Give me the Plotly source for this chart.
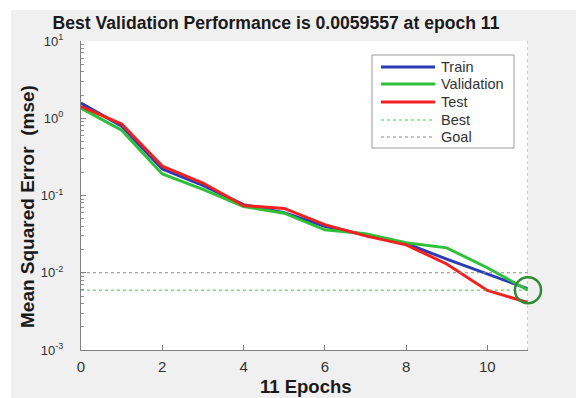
import plotly.graph_objects as go

epochs = [0, 1, 2, 3, 4, 5, 6, 7, 8, 9, 10, 11]
train = [1.57, 0.79, 0.22, 0.135, 0.076, 0.060, 0.040, 0.031, 0.024, 0.015, 0.0097, 0.0062]
validation = [1.35, 0.70, 0.19, 0.12, 0.072, 0.059, 0.036, 0.032, 0.0245, 0.021, 0.0116, 0.0059557]
test = [1.43, 0.84, 0.24, 0.145, 0.074, 0.068, 0.042, 0.030, 0.023, 0.013, 0.0059, 0.0041]
best_epoch = 11
best_perf = 0.0059557
goal = 0.01
y_range = [1e-3, 1e1]
x_range = [0, 11]
y_tickvals = [1e-3, 1e-2, 1e-1, 1e0, 1e1]
y_ticktext = ["10<sup>-3</sup>", "10<sup>-2</sup>", "10<sup>-1</sup>", "10<sup>0</sup>", "10<sup>1</sup>"]
x_tickvals = [0, 2, 4, 6, 8, 10]
minor_vals = [m * 10 ** e for e in range(-3, 1) for m in range(2, 10)]
legend_names = ["Train", "Validation", "Test", "Best", "Goal"]

FONT = "Liberation Sans, Arial, sans-serif"
C_TRAIN, C_VAL, C_TEST = "#2b3bb5", "#2fc03a", "#f2201f"
C_BEST, C_GOAL = "#44cc44", "#8a8a8a"
legend_styles = [(C_TRAIN, 3, "solid"), (C_VAL, 3, "solid"), (C_TEST, 3, "solid"),
                 (C_BEST, 1, "dot"), (C_GOAL, 1, "dot")]

# plot area in pixels
L, R, T, B = 81, 528, 41, 350
W, H = 576, 398


def px(x):
    return (x - L) / (R - L)


def py(y):
    return (B - y) / (B - T)


fig = go.Figure()
fig.add_trace(go.Scatter(x=epochs, y=train, mode="lines", name="Train",
                         line=dict(color=C_TRAIN, width=3)))
fig.add_trace(go.Scatter(x=epochs, y=validation, mode="lines", name="Validation",
                         line=dict(color=C_VAL, width=3)))
fig.add_trace(go.Scatter(x=epochs, y=test, mode="lines", name="Test",
                         line=dict(color=C_TEST, width=3)))
fig.add_trace(go.Scatter(x=[x_range[0], best_epoch], y=[best_perf, best_perf], mode="lines", name="Best",
                         line=dict(color=C_BEST, width=1, dash="dot")))
fig.add_trace(go.Scatter(x=[best_epoch, best_epoch], y=y_range, mode="lines", name="Best",
                         line=dict(color=C_BEST, width=1, dash="dot")))
fig.add_trace(go.Scatter(x=[x_range[0], x_range[1]], y=[goal, goal], mode="lines", name="Goal",
                         line=dict(color=C_GOAL, width=1, dash="dot")))
fig.add_trace(go.Scatter(x=[best_epoch], y=[best_perf], mode="markers", name="Best point",
                         marker=dict(symbol="circle-open", size=26, color="#2e8b34",
                                     line=dict(width=2.5, color="#2e8b34")),
                         cliponaxis=False))

shapes = [
    # white strips at top and left of the grey figure background
    dict(type="rect", xref="paper", yref="paper", layer="above",
         x0=px(-20), x1=px(W + 20), y0=py(10), y1=py(-20),
         fillcolor="#ffffff", line=dict(width=0)),
    dict(type="rect", xref="paper", yref="paper", layer="above",
         x0=px(-20), x1=px(11), y0=py(H + 20), y1=py(-20),
         fillcolor="#ffffff", line=dict(width=0)),
    # legend box
    dict(type="rect", xref="paper", yref="paper", layer="above",
         x0=px(372), x1=px(514), y0=py(148), y1=py(55),
         fillcolor="#ffffff", line=dict(width=1, color="#9a9a9a")),
]
annotations = [
    dict(text="<b>11 Epochs</b>", xref="paper", yref="paper", x=px(306), y=py(386),
         xanchor="center", yanchor="middle", showarrow=False,
         font=dict(size=18.5, color="#1a1a1a", family=FONT)),
    dict(text="<b>Mean Squared Error  (mse)</b>", xref="paper", yref="paper", x=px(27), y=py(207),
         xanchor="center", yanchor="middle", showarrow=False, textangle=-90,
         font=dict(size=19, color="#1a1a1a", family=FONT)),
]
row_y = [67, 84, 102, 120, 137]
for name, (col, wd, dash), ry in zip(legend_names, legend_styles, row_y):
    shapes.append(dict(type="line", xref="paper", yref="paper", layer="above",
                       x0=px(381), x1=px(435), y0=py(ry), y1=py(ry),
                       line=dict(color=col, width=wd, dash=dash)))
    annotations.append(dict(text=name, xref="paper", yref="paper", x=px(439), y=py(ry),
                            xanchor="left", yanchor="middle", showarrow=False,
                            font=dict(size=14.5, color="#333333", family=FONT)))

fig.update_layout(
    width=W, height=H,
    margin=dict(l=L, r=W - R, t=T, b=H - B, autoexpand=False),
    paper_bgcolor="#f0f0f0",
    plot_bgcolor="#ffffff",
    font=dict(family=FONT, color="#262626", size=13),
    title=dict(text="<b>Best Validation Performance is 0.0059557 at epoch 11</b>",
               x=276 / W, xanchor="center", xref="container",
               y=1 - 23 / H, yanchor="middle", yref="container",
               font=dict(size=17.6, color="#1a1a1a", family=FONT), automargin=False),
    showlegend=False,
    shapes=shapes,
    annotations=annotations,
)
fig.update_xaxes(range=x_range, tickvals=x_tickvals, ticks="inside", ticklen=5,
                 tickcolor="#808080", showline=True, linecolor="#808080", linewidth=1,
                 showgrid=False, zeroline=False, automargin=False,
                 ticklabelstandoff=3,
                 tickfont=dict(size=15, color="#333333"))
fig.update_yaxes(type="log", range=[-3, 1], tickvals=y_tickvals, ticktext=y_ticktext,
                 ticks="inside", ticklen=5, tickcolor="#808080",
                 showline=True, linecolor="#808080", linewidth=1,
                 showgrid=False, zeroline=False, automargin=False,
                 ticklabelstandoff=14,
                 minor=dict(tickvals=minor_vals, ticks="inside", ticklen=3, tickcolor="#909090"),
                 tickfont=dict(size=13, color="#333333"))

fig.write_html("out.html", config={"displayModeBar": False},
               post_script="document.body.style.margin='0';document.body.style.overflow='hidden';"
                           "document.body.style.background='#f0f0f0';")
